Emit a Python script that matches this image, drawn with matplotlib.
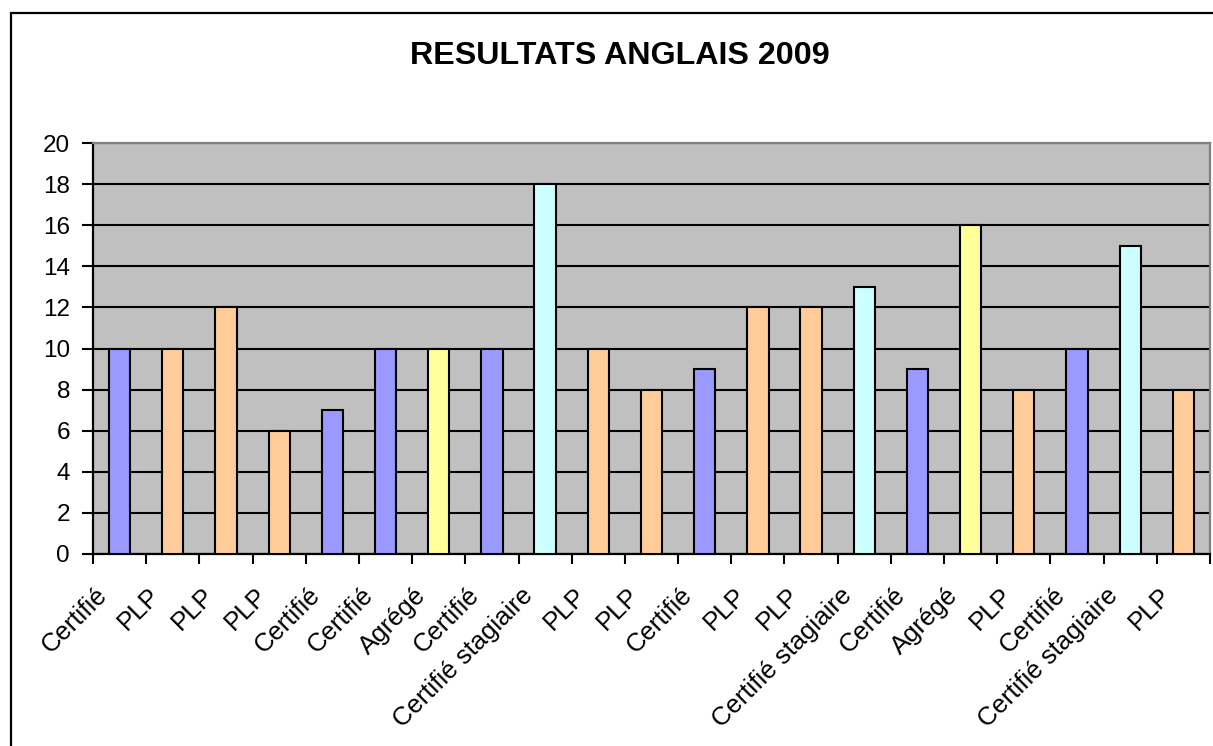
import matplotlib
matplotlib.use("Agg")
import matplotlib.pyplot as plt
from matplotlib.patches import Rectangle
import matplotlib.transforms as mtransforms

plt.rcParams['font.family'] = ['Liberation Sans', 'DejaVu Sans']

categories = ["Certifié", "PLP", "PLP", "PLP", "Certifié", "Certifié", "Agrégé",
              "Certifié", "Certifié stagiaire", "PLP", "PLP", "Certifié", "PLP", "PLP",
              "Certifié stagiaire", "Certifié", "Agrégé", "PLP", "Certifié",
              "Certifié stagiaire", "PLP"]
values = [10, 10, 12, 6, 7, 10, 10, 10, 18, 10, 8, 9, 12, 12, 13, 9, 16, 8, 10, 15, 8]
color_map = {"Certifié": "#9999FF", "PLP": "#FFCC99", "Agrégé": "#FFFF99",
             "Certifié stagiaire": "#CCFFFF"}
title = "RESULTATS ANGLAIS 2009"

W, H = 1213, 746
fig = plt.figure(figsize=(W / 100, H / 100), dpi=100)

# chart border
fig.patches.append(Rectangle((10.5 / W, -0.1), 1.2, 1 - 12.5 / H + 0.1,
                             transform=fig.transFigure, fill=False,
                             edgecolor="black", linewidth=1.6, zorder=0))

ax = fig.add_axes([93 / W, 1 - 554 / H, (1210 - 93) / W, (554 - 143) / H])
ax.set_facecolor("#C0C0C0")

x = list(range(len(categories)))
cols = [color_map[c] for c in categories]
ax.bar(x, values, width=0.4, color=cols, edgecolor="black", linewidth=1.5, zorder=3)

ax.set_xlim(-0.5, len(categories) - 0.5)
ax.set_ylim(0, 20)
ax.set_yticks(range(0, 21, 2))
ax.yaxis.grid(True, color="black", linewidth=1.5, zorder=1)
ax.set_axisbelow(True)
ax.tick_params(axis="y", direction="out", length=8, width=1.5, labelsize=17.5, pad=8.5)

ax.set_xticks([i - 0.5 for i in range(len(categories) + 1)])
ax.set_xticklabels([])
ax.set_xticks(x, minor=True)
ax.set_xticklabels(categories, minor=True, rotation=45, ha="right", va="center",
                   rotation_mode="anchor", fontsize=18.5)
ax.tick_params(axis="x", which="major", direction="out", length=7, width=1.5)
ax.tick_params(axis="x", which="minor", length=0, pad=27)
offset = mtransforms.ScaledTranslation(-0.16, 0, fig.dpi_scale_trans)
for lab in ax.get_xticklabels(minor=True):
    lab.set_transform(lab.get_transform() + offset)

for s in ["left", "bottom"]:
    ax.spines[s].set_color("black")
    ax.spines[s].set_linewidth(1.6)
for s in ["top", "right"]:
    ax.spines[s].set_color("#808080")
    ax.spines[s].set_linewidth(1.6)

fig.text(620 / W, 1 - 56 / H, title, ha="center", va="center",
         fontsize=23.2, fontweight="bold")

fig.savefig("out.png", dpi=100)
